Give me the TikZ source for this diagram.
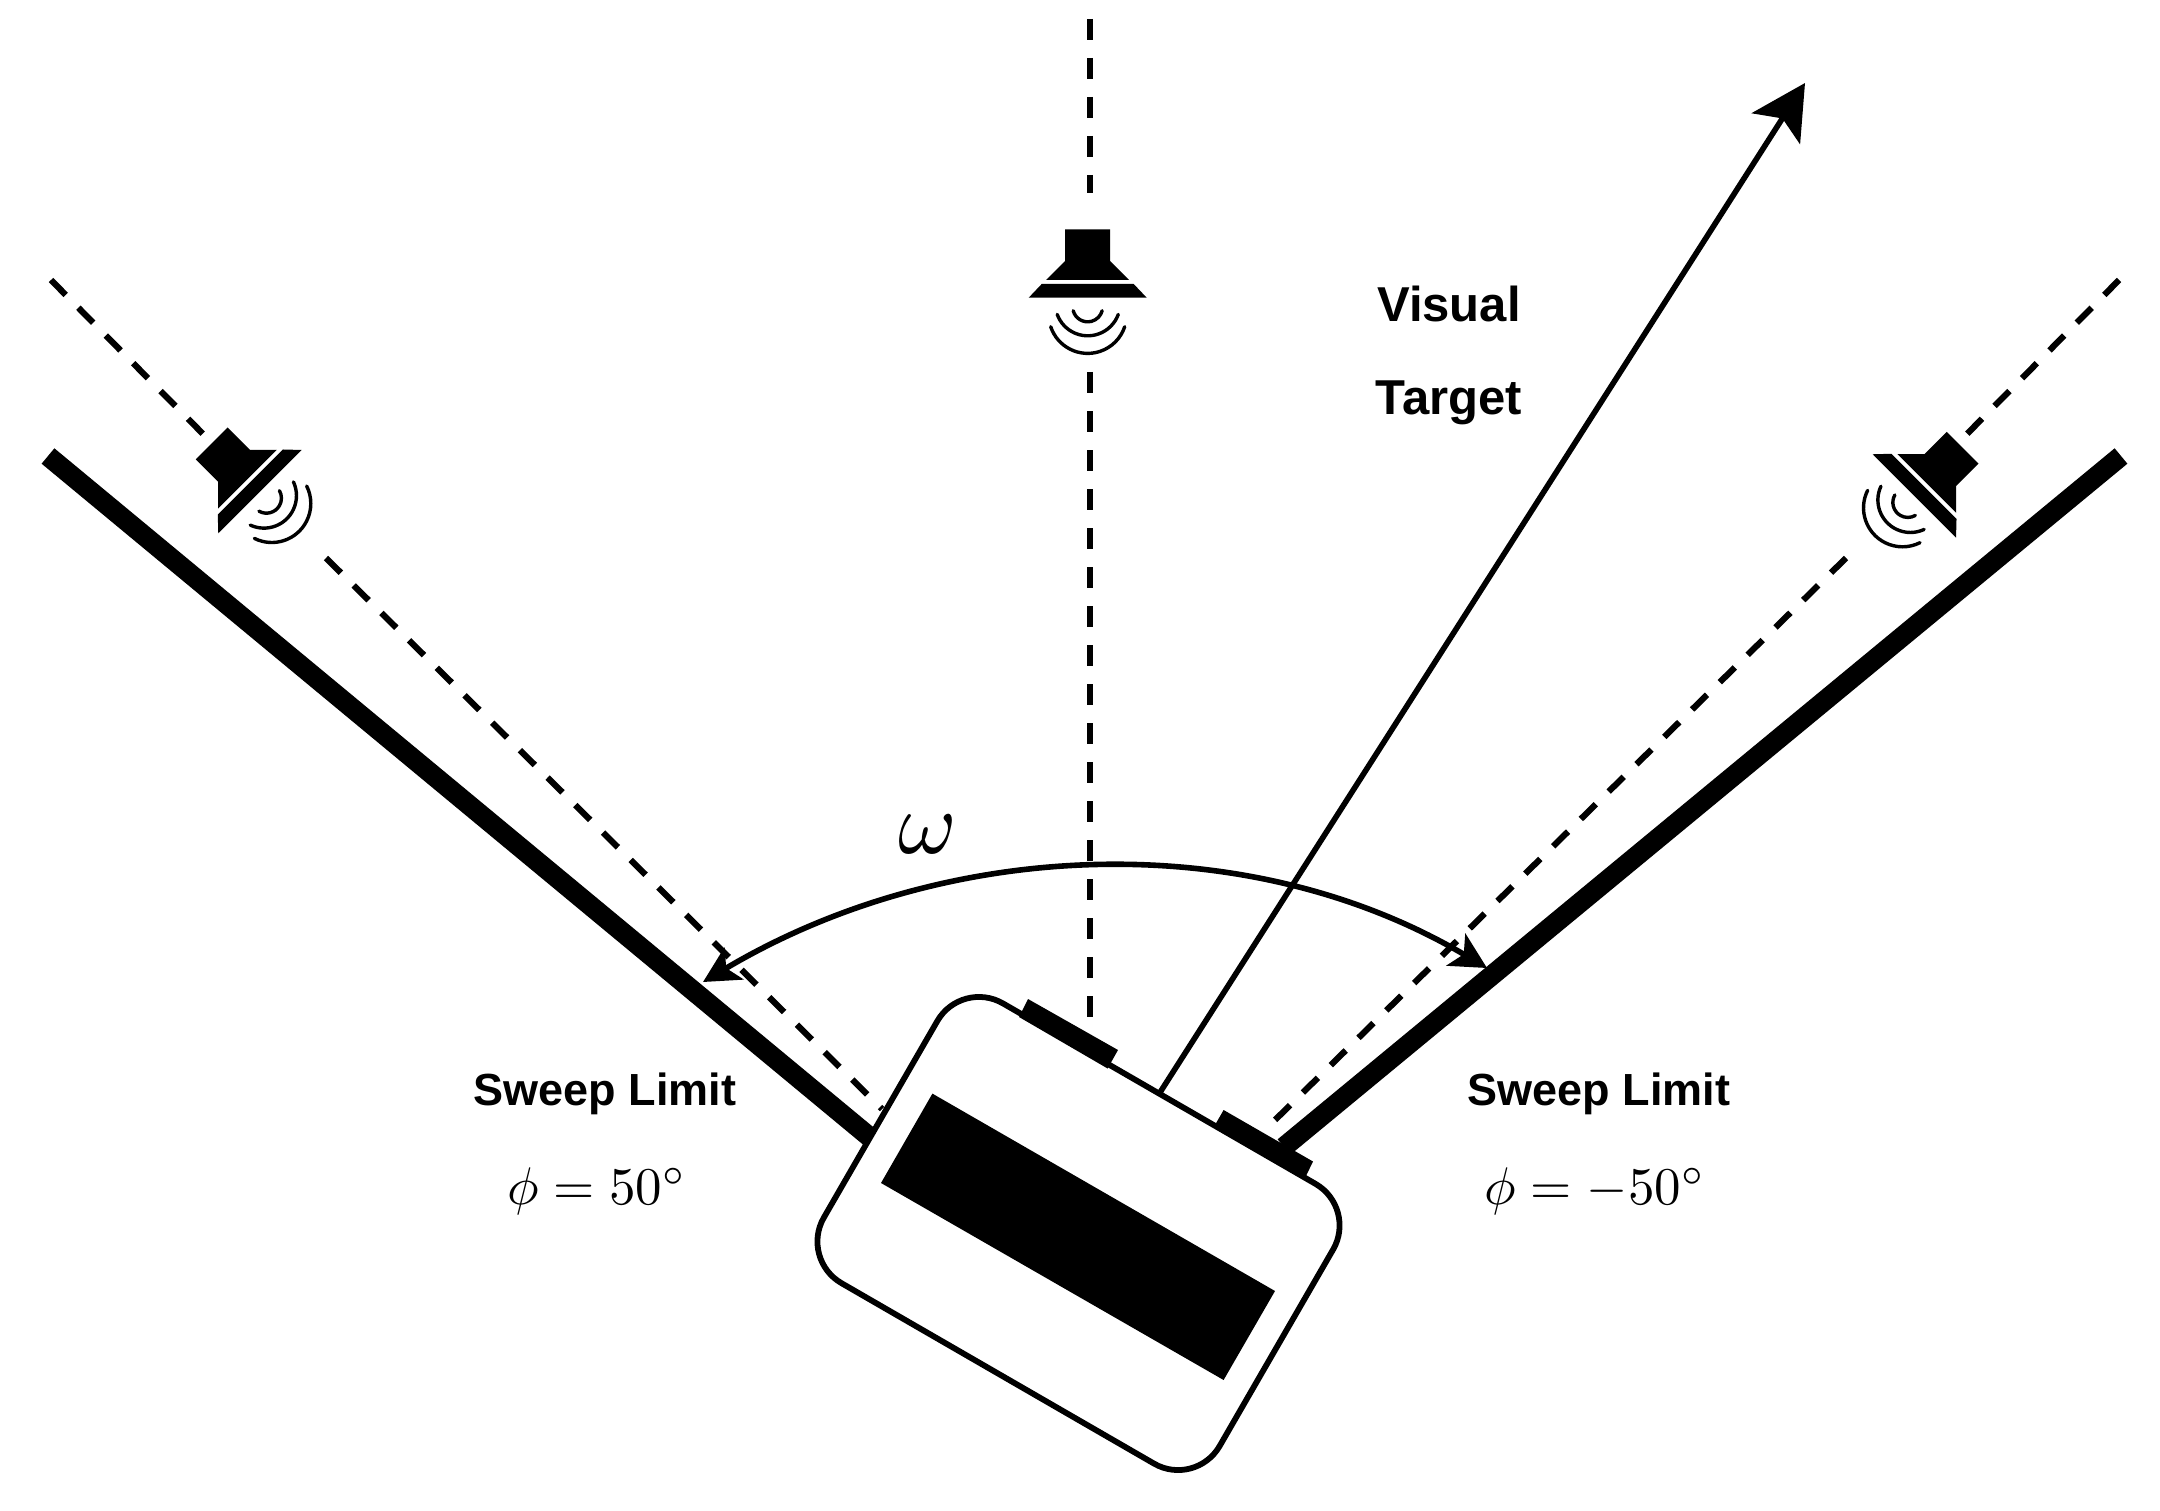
\documentclass[tikz,border=0pt]{standalone}
\usepackage{fontspec}
\setmainfont{Liberation Sans}
\usetikzlibrary{arrows.meta}
\tikzset{
  bigtip/.tip={Stealth[length=54pt,width=57pt,inset=12pt]},
  smalltip/.tip={Stealth[length=36pt,width=37pt,inset=9pt]},
  axisline/.style={line width=6.2pt,dash pattern=on 21pt off 18pt},
  limitline/.style={line width=20pt},
  blackshape/.style={fill=black,draw=none},
  boldlabel/.style={font=\fontsize{45}{54}\selectfont\bfseries,inner sep=0pt},
  targetlabel/.style={font=\fontsize{49}{58}\selectfont\bfseries,inner sep=0pt},
  mathlabel/.style={scale=5.3,inner sep=0pt},
  wave/.style={line width=3.4pt,line cap=round},
  pics/speaker/.style={code={
    \fill (-22.5,-68.3) -- (22.5,-68.3) -- (22.5,-36.7) -- (41.5,-17.7) -- (-41.5,-17.7) -- (-22.5,-36.7) -- cycle;
    \fill (-46,-13.7) -- (46,-13.7) -- (59,0) -- (-59,0) -- cycle;
    \draw[wave] (-14.5,13) arc[start angle=165,end angle=15,radius=15];
    \draw[wave] (-30.5,16.7) arc[start angle=160,end angle=20,radius=32.5];
    \draw[wave] (-37,29) arc[start angle=161.6,end angle=18.4,radius=39];
  }}
}
\begin{document}
\begin{tikzpicture}[x=1pt,y=-1pt]
\path[use as bounding box,fill=white] (0,0) rectangle (2160,1511);

% free ends of the connectors
\coordinate (ctop) at (1090,19);
\coordinate (cmid1) at (1090,193);
\coordinate (cmid2) at (1090,372);
\coordinate (cbot) at (1090,1020);
\coordinate (ltop) at (51,280);
\coordinate (lmid1) at (207,438);
\coordinate (lmid2) at (326,558);
\coordinate (lbot) at (882,1109);
\coordinate (rtop) at (2119,280);
\coordinate (rmid1) at (1963,438);
\coordinate (rmid2) at (1846,558);
\coordinate (rbot) at (1274,1121);
\coordinate (limitLa) at (48,456);
\coordinate (limitLb) at (872,1139);
\coordinate (limitRa) at (2121,456);
\coordinate (limitRb) at (1284,1147);
\coordinate (targetstart) at (1159,1094);
\coordinate (targettip) at (1805,83);
\coordinate (sweepL) at (703,982);
\coordinate (sweepR) at (1487,968);

% axis lines
\draw[axisline] (ctop) -- (cmid1);
\draw[axisline] (cmid2) -- (cbot);
\draw[axisline] (ltop) -- (lmid1);
\draw[axisline] (lmid2) -- (lbot);
\draw[axisline] (rtop) -- (rmid1);
\draw[axisline] (rmid2) -- (rbot);

% sweep limits and visual target
\draw[limitline] (limitLa) -- (limitLb);
\draw[limitline] (limitRa) -- (limitRb);
\draw[line width=5.6pt,-{bigtip}] (targetstart) -- (targettip);

% device
\node[draw,fill=white,line width=5.8pt,rounded corners=48pt,minimum width=457pt,minimum height=323pt,inner sep=0pt,rotate=-30] (body) at (1078.5,1233.5) {};
\fill[blackshape] (932.4,1093.6) -- (1275,1291) -- (1223.6,1380) -- (881,1183) -- cycle;
\fill[blackshape] (1028,999) -- (1118,1050) -- (1107.6,1068.5) -- (1019,1017) -- cycle;
\fill[blackshape] (1223.6,1110) -- (1313,1161.5) -- (1305,1178) -- (1215,1125) -- cycle;

% speakers
\pic at (1087.7,297.7) {speaker};
\pic[rotate=45] at (260,491.7) {speaker};
\pic[rotate=-45] at (1914.3,496) {speaker};

% sweep arc
\draw[line width=5.6pt,{smalltip}-{smalltip}] (sweepL) .. controls (943,839) and (1245,825) .. (sweepR);

% labels
\node[scale=8.9,inner sep=0pt] (omega) at (928,834) {$\omega$};
\node[targetlabel] (visual) at (1449,304) {Visual};
\node[targetlabel] (target) at (1449,403) {Target};
\node[boldlabel] (sweepLlabel) at (605,1094) {Sweep Limit};
\node[boldlabel] (sweepRlabel) at (1599,1094) {Sweep Limit};
\node[mathlabel] (phiL) at (597,1191) {$\phi=50^\circ$};
\node[mathlabel] (phiR) at (1595,1191) {$\phi=-50^\circ$};
\end{tikzpicture}
\end{document}
